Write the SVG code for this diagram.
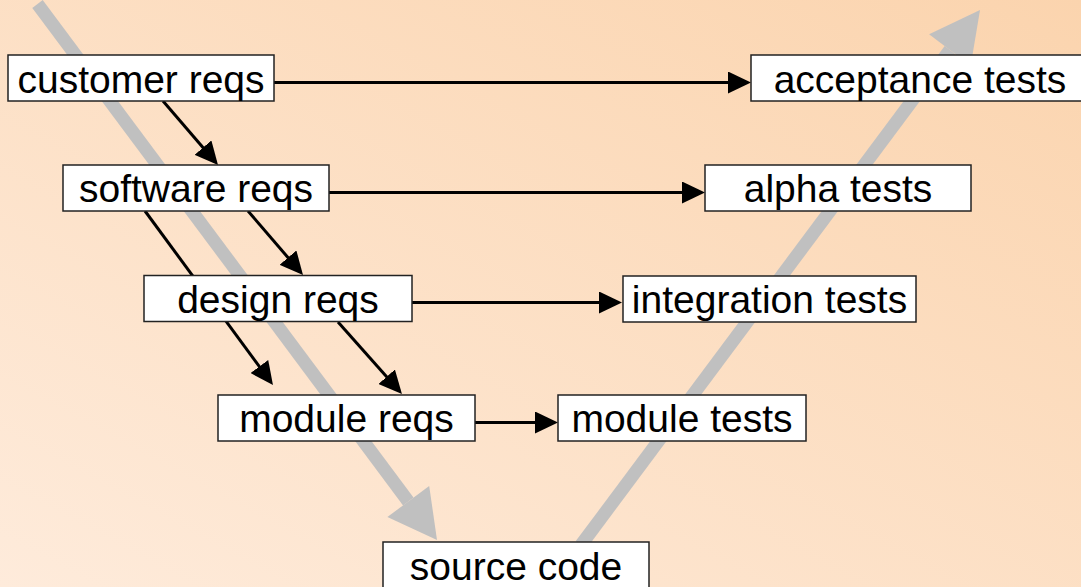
<svg xmlns="http://www.w3.org/2000/svg" width="1081" height="587" viewBox="0 0 1081 587">
<defs>
<linearGradient id="bg" x1="1" y1="0" x2="0" y2="1">
<stop offset="0" stop-color="#FBD4AE"/>
<stop offset="1" stop-color="#FEEBDB"/>
</linearGradient>
<marker id="ah" markerUnits="userSpaceOnUse" markerWidth="23" markerHeight="22" viewBox="0 0 23 22" refX="19" refY="11" orient="auto">
<path d="M0,0 L23,11 L0,22 z" fill="#000"/>
</marker>
<style>
.box{fill:#fff;stroke:#222;stroke-width:1.5}
.lbl{font-family:"Liberation Sans",Arial,sans-serif;font-size:39px;fill:#000;text-anchor:middle}
.con{fill:none;stroke:#000;stroke-width:3;marker-end:url(#ah)}
.v{fill:none;stroke:#C0C0C0;stroke-width:13}
</style>
</defs>
<rect width="1081" height="587" fill="url(#bg)"/>
<g id="v-arrows">
<line class="v" x1="37.5" y1="4" x2="408.3" y2="501.5"/>
<polygon points="437,540 429.2,486 387.4,517" fill="#C0C0C0"/>
<line class="v" x1="581" y1="545" x2="949.9" y2="50"/>
<polygon points="980,10 970.7,65.7 929.1,34.3" fill="#C0C0C0"/>
</g>
<g id="connectors">
<path class="con" d="M274,82.5 H747"/>
<path class="con" d="M329,192.5 H701"/>
<path class="con" d="M412,302.5 H618"/>
<path class="con" d="M475,422.5 H554"/>
<path class="con" d="M163,101 L215.4,162"/>
<path class="con" d="M248,211 L300.4,272"/>
<path class="con" d="M145,211 L270.6,381.8"/>
<path class="con" d="M338,322 L399.3,391"/>
</g>
<g id="customer-reqs"><rect class="box" x="8" y="55" width="266" height="46"/><text class="lbl" x="141" y="93">customer reqs</text></g>
<g id="software-reqs"><rect class="box" x="63" y="165" width="266" height="46"/><text class="lbl" x="196" y="202">software reqs</text></g>
<g id="design-reqs"><rect class="box" x="144" y="275.5" width="268" height="46"/><text class="lbl" x="278" y="313">design reqs</text></g>
<g id="module-reqs"><rect class="box" x="218" y="395" width="257" height="46"/><text class="lbl" x="346.5" y="432">module reqs</text></g>
<g id="acceptance-tests"><rect class="box" x="751" y="55" width="338" height="46"/><text class="lbl" x="920" y="93">acceptance tests</text></g>
<g id="alpha-tests"><rect class="box" x="705" y="165" width="266" height="46"/><text class="lbl" x="838" y="202">alpha tests</text></g>
<g id="integration-tests"><rect class="box" x="623" y="276" width="293" height="46"/><text class="lbl" x="769.5" y="313">integration tests</text></g>
<g id="module-tests"><rect class="box" x="558" y="395" width="248" height="46"/><text class="lbl" x="682" y="432">module tests</text></g>
<g id="source-code"><rect class="box" x="383" y="542" width="266" height="60"/><text class="lbl" x="516" y="580">source code</text></g>
</svg>
